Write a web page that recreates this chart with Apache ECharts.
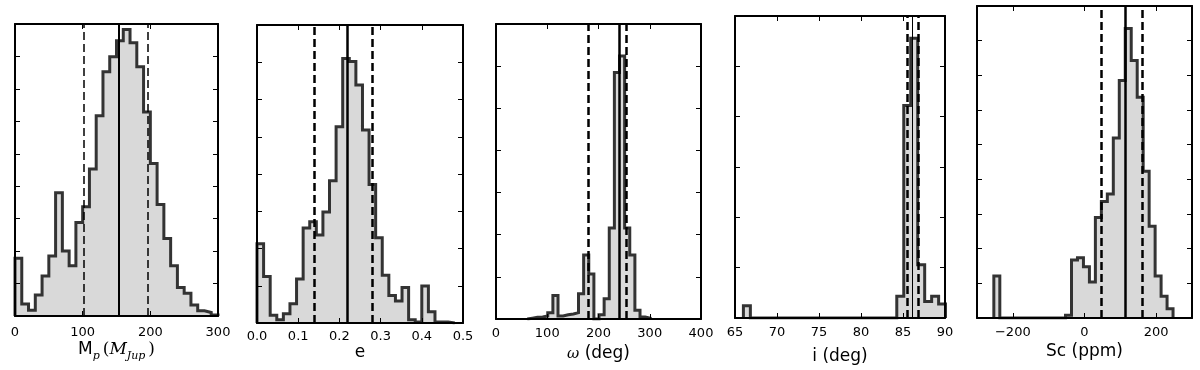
<!DOCTYPE html>
<html>
<head>
<meta charset="utf-8">
<title>Posterior histograms</title>
<script src="https://cdn.jsdelivr.net/npm/echarts@6/dist/echarts.min.js"></script>
<style>
  html, body { margin: 0; padding: 0; background: #fff; }
  #chart { width: 1200px; height: 370px; }
</style>
</head>
<body>
<div id="chart"></div>
<script>
// counts are in units of one y tick (the y axes carry no labels)
// lines = [lower, median, upper]

// planet mass
var massStart = 0, massBin = 10;
var massCounts = [1.78, 0.37, 0.18, 0.65, 1.23, 1.85, 3.8, 2.0, 1.55, 2.88,
  3.37, 4.53, 6.17, 7.53, 7.99, 8.48, 8.83, 8.42, 7.68, 6.29,
  4.7, 3.44, 2.39, 1.55, 0.88, 0.7, 0.34, 0.16, 0.11, 0.03];
var massLines = [101, 154, 196];
var massTicks = [0, 100, 200, 300];

// eccentricity
var eccStart = 0, eccBin = 0.016;
var eccCounts = [2.13, 1.25, 0.21, 0.09, 0.25, 0.52, 1.18, 2.55, 2.72, 2.36,
  2.98, 3.82, 5.27, 7.1, 7.02, 6.39, 5.18, 3.72, 2.29, 1.28,
  0.74, 0.59, 0.95, 0.09, 0.03, 0.99, 0.3, 0.03, 0.03, 0];
var eccLines = [0.1416, 0.221, 0.275];
var eccTicks = [0, 0.1, 0.2, 0.3, 0.4, 0.5];

// argument of periastron
var omegaStart = 61, omegaBin = 10;
var omegaCounts = [0.02, 0.04, 0.05, 0.07, 0.15, 0.56, 0.07, 0.1, 0.12, 0.15,
  0.6, 1.52, 1.07, 0, 0.1, 0.48, 2.16, 5.85, 6.24, 2.16,
  1.52, 0.21, 0.05, 0.02];
var omegaLines = [179.5, 240.5, 254];
var omegaTicks = [0, 100, 200, 300, 400];

// inclination
var incStart = 66.0, incBin = 0.83;
var incCounts = [0.245, 0, 0, 0, 0, 0, 0, 0, 0, 0,
  0, 0, 0, 0, 0, 0, 0, 0, 0, 0,
  0, 0, 0.43, 4.22, 5.56, 1.06, 0.33, 0.43, 0.28];
var incLines = [85.55, 86.15, 86.8];
var incTicks = [65, 70, 75, 80, 85, 90];

// secondary eclipse depth
var scStart = -253, scBin = 16.67;
var scCounts = [1.21, 0, 0, 0, 0, 0, 0, 0, 0, 0,
  0, 0, 0.08, 1.67, 1.74, 1.48, 1.04, 2.9, 3.36, 3.58,
  5.19, 6.85, 8.35, 7.43, 6.37, 4.23, 2.65, 1.21, 0.63, 0.27];
var scLines = [46, 115, 160];
var scTicks = [-200, 0, 200];

var FONT = 'DejaVu Sans';

// box = [left, top, width, height]; labelTop / titleBase are page y of digit tops / title baseline
var panels = [
  {box: [15, 24, 203, 292], xmin: 0, xmax: 300, ymax: 9, ticks: massTicks,
   start: massStart, bin: massBin, counts: massCounts, lines: massLines,
   dashW: 1.5, solidW: 2, labelTop: 327, titleBase: 355,
   name: 'M{sub|p}{pr|(}{mi|M}{sub|Jup}{pr|)}'},
  {box: [257, 25, 206, 298], xmin: 0, xmax: 0.5, ymax: 8, ticks: eccTicks,
   start: eccStart, bin: eccBin, counts: eccCounts, lines: eccLines,
   dashW: 2.5, solidW: 2.5, labelTop: 331.5, titleBase: 358, name: 'e',
   fmt: function (v) { return v.toFixed(1); }},
  {box: [496, 24, 205, 295], xmin: 0, xmax: 400, ymax: 7, ticks: omegaTicks,
   start: omegaStart, bin: omegaBin, counts: omegaCounts, lines: omegaLines,
   dashW: 2.5, solidW: 2.5, labelTop: 328, titleBase: 359, name: '{w|ω} (deg)'},
  {box: [735, 16, 210, 302], xmin: 65, xmax: 90, ymax: 6, ticks: incTicks,
   start: incStart, bin: incBin, counts: incCounts, lines: incLines,
   dashW: 2.5, solidW: 1, labelTop: 327.5, titleBase: 361.5, name: 'i (deg)'},
  {box: [977, 6, 215, 312], xmin: -300, xmax: 300, ymax: 9, ticks: scTicks,
   start: scStart, bin: scBin, counts: scCounts, lines: scLines,
   dashW: 2.5, solidW: 2.5, labelTop: 327.5, titleBase: 357, name: 'Sc (ppm)',
   fmt: function (v) { return String(v).replace('-', '\u2212'); }}
];

// step outline of a histogram, in data units
function outline(start, bin, counts) {
  var pts = [[start, 0]];
  counts.forEach(function (c, i) {
    pts.push([start + i * bin, c], [start + (i + 1) * bin, c]);
  });
  pts.push([start + counts.length * bin, 0]);
  return pts;
}

var grid = [], xAxis = [], yAxis = [], series = [];
var frame = {show: true, onZero: false, lineStyle: {color: '#000', width: 2}};

panels.forEach(function (p, i) {
  var bottom = p.box[1] + p.box[3];
  grid.push({left: p.box[0], top: p.box[1], width: p.box[2], height: p.box[3],
    containLabel: false, outerBoundsMode: 'none'});

  var tick = {show: true, inside: true, length: 5, customValues: p.ticks,
    lineStyle: {color: '#000', width: 1}};
  xAxis.push({
    gridIndex: i, type: 'value', min: p.xmin, max: p.xmax, position: 'bottom', z: 10,
    axisLine: frame, axisTick: tick, splitLine: {show: false},
    axisLabel: {show: true, customValues: p.ticks, margin: p.labelTop - 1 - bottom,
      color: '#000', fontFamily: FONT, fontSize: 13, formatter: p.fmt},
    name: p.name, nameLocation: 'middle', nameMoveOverlap: false,
    nameGap: p.titleBase - 17 - bottom,
    nameTextStyle: {color: '#000', fontFamily: FONT, fontSize: 17, lineHeight: 24,
      verticalAlign: 'top',
      rich: {
        sub: {fontFamily: 'DejaVu Serif', fontStyle: 'italic', fontSize: 11,
          lineHeight: 12, verticalAlign: 'bottom'},
        pr: {fontFamily: 'DejaVu Serif', fontSize: 17, lineHeight: 24, padding: [0, 0, 0, 3]},
        mi: {fontFamily: 'DejaVu Serif', fontStyle: 'italic', fontSize: 17, lineHeight: 24},
        w: {fontFamily: 'DejaVu Serif', fontStyle: 'italic', fontSize: 15, lineHeight: 24}
      }}
  });
  xAxis.push({
    gridIndex: i, type: 'value', min: p.xmin, max: p.xmax, position: 'top', z: 10,
    axisLine: frame, axisTick: tick, axisLabel: {show: false}, splitLine: {show: false}
  });

  ['left', 'right'].forEach(function (side) {
    yAxis.push({
      gridIndex: i, type: 'value', min: 0, max: p.ymax, interval: 1, position: side, z: 10,
      axisLine: frame, axisLabel: {show: false}, splitLine: {show: false},
      axisTick: {show: true, inside: true, length: 5, lineStyle: {color: '#000', width: 1}}
    });
  });

  var dashed = {type: [8, 4], width: p.dashW, color: '#000'};
  series.push({
    type: 'line', xAxisIndex: 2 * i, yAxisIndex: 2 * i,
    data: outline(p.start, p.bin, p.counts),
    symbol: 'none', silent: true, animation: false,
    lineStyle: {color: '#333', width: 3, join: 'miter'},
    areaStyle: {color: '#d9d9d9', opacity: 1, origin: 'start'},
    markLine: {
      silent: true, symbol: ['none', 'none'], label: {show: false}, animation: false,
      data: [
        {xAxis: p.lines[0], lineStyle: dashed},
        {xAxis: p.lines[1], lineStyle: {type: 'solid', width: p.solidW, color: '#000'}},
        {xAxis: p.lines[2], lineStyle: dashed}
      ]
    }
  });
});

var chart = echarts.init(document.getElementById('chart'));
chart.setOption({
  animation: false,
  backgroundColor: '#fff',
  grid: grid,
  xAxis: xAxis,
  yAxis: yAxis,
  series: series
});
</script>
</body>
</html>
